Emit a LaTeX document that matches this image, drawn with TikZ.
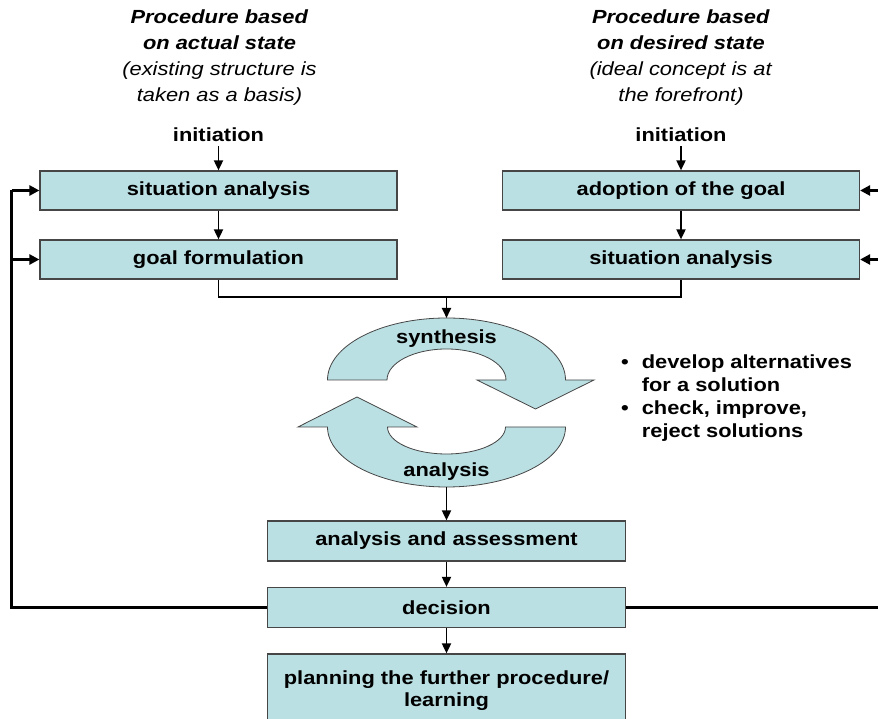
\documentclass[tikz,border=0pt]{standalone}
\usepackage{fontspec}
\setmainfont{Liberation Sans}[FakeStretch=1.15]
\usetikzlibrary{arrows.meta}
\definecolor{boxfill}{RGB}{187,224,227}
\definecolor{boxline}{RGB}{70,70,70}
\tikzset{
  stepbox/.style={draw=boxline, line width=1.2pt, fill=boxfill, minimum width=357pt, minimum height=39pt, inner sep=0pt, font=\fontsize{19}{22}\selectfont\bfseries, align=center},
  cbox/.style={stepbox, minimum width=358pt, minimum height=40pt},
  conn/.style={line width=1.8pt, -{Triangle[length=10pt,width=9pt]}},
  plain/.style={line width=1.8pt},
  fb/.style={line width=2.8pt},
  fbarrow/.style={line width=2.8pt, -{Triangle[length=10pt,width=10pt]}},
  circarrow/.style={draw=boxline, line width=0.8pt, fill=boxfill},
  lbl/.style={font=\fontsize{19}{22}\selectfont\bfseries, inner sep=0pt},
  header/.style={font=\fontsize{19}{26}\selectfont, align=center, inner sep=0pt}
}
\begin{document}
\begin{tikzpicture}[x=1pt,y=1pt]
\useasboundingbox (0,0) rectangle (878,719);
% headers
\node[header] (hl) at (219.5,661) {\textbf{\textit{Procedure based}}\\\textbf{\textit{on actual state}}\\\textit{(existing structure is}\\\textit{taken as a basis)}};
\node[header] (hr) at (681,661) {\textbf{\textit{Procedure based}}\\\textbf{\textit{on desired state}}\\\textit{(ideal concept is at}\\\textit{the forefront)}};
\node[lbl] (il) at (218.5,584) {initiation};
\node[lbl] (ir) at (681,584) {initiation};
% boxes
\node[stepbox] (ls1) at (218.5,528.5) {situation analysis};
\node[stepbox] (ls2) at (218.5,459.5) {goal formulation};
\node[stepbox] (rs1) at (681,528.5) {adoption of the goal};
\node[stepbox] (rs2) at (681,459.5) {situation analysis};
\node[cbox] (aa) at (446.5,178) {analysis and assessment};
\node[cbox] (dec) at (446.5,111.5) {decision};
\node[cbox, minimum height=74pt] (plan) at (446.5,28) {planning the further procedure/\\learning};
% cycle arrows
\path[circarrow] (327.5,339) arc[start angle=180, end angle=0, x radius=119, y radius=62]
  -- (594,339) -- (535.5,310) -- (477,339) -- (506,339)
  arc[start angle=0, end angle=180, x radius=59.5, y radius=31] -- cycle;
\path[circarrow] (565.5,292) arc[start angle=0, end angle=-180, x radius=119, y radius=60]
  -- (298,292) -- (357,322) -- (417,292) -- (387.5,292)
  arc[start angle=180, end angle=360, x radius=59, y radius=27] -- cycle;
\node[lbl] (syn) at (446.5,380) {synthesis};
\node[lbl] (ana) at (446.5,247) {analysis};
\coordinate (syntop) at (446.5,401);
\coordinate (anabot) at (446.5,232);
\coordinate (J) at (446.5,422);
% bullets
\node[anchor=north west, inner sep=0pt, font=\fontsize{19}{23}\selectfont\bfseries] (bul) at (621,367)
 {\begin{tabular}{@{}l@{\hspace{13pt}}l@{}}\textbullet & develop alternatives\\ & for a solution\\ \textbullet & check, improve,\\ & reject solutions\end{tabular}};
% connectors
\draw[conn] (il.south) ++(0,-4pt) coordinate (ils) -- (ls1.north);
\draw[conn] (ir.south) ++(0,-4pt) coordinate (irs) -- (rs1.north);
\draw[conn] (ls1.south) -- (ls2.north);
\draw[conn] (rs1.south) -- (rs2.north);
\draw[plain] (ls2.south) |- (J);
\draw[plain] (rs2.south) |- (J);
\draw[conn] (J) -- (syntop);
\draw[conn] (anabot) -- (aa.north);
\draw[conn] (aa.south) -- (dec.north);
\draw[conn] (dec.south) -- (plan.north);
% feedback
\coordinate (L0) at (11.5,111.5);
\coordinate (L1) at (11.5,528.5);
\coordinate (L2) at (11.5,459.5);
\coordinate (R0) at (882,111.5);
\coordinate (R1) at (882,528.5);
\coordinate (R2) at (882,459.5);
\draw[fb] (dec.west) -- (L0) -- (L1);
\draw[fbarrow] (L1) -- (ls1.west);
\draw[fbarrow] (L2) -- (ls2.west);
\draw[fb] (dec.east) -- (R0) -- (R1);
\draw[fbarrow] (R1) -- (rs1.east);
\draw[fbarrow] (R2) -- (rs2.east);
\end{tikzpicture}
\end{document}
